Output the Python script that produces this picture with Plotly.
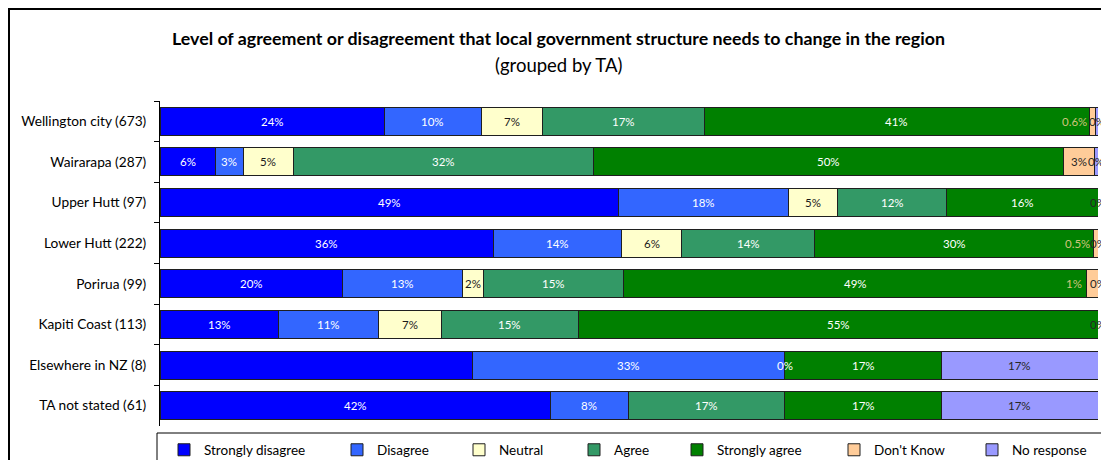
import math
import plotly.graph_objects as go

# Territorial authority groups (respondent counts in brackets)
areas = [
    "Wellington city (673)",
    "Wairarapa (287)",
    "Upper Hutt (97)",
    "Lower Hutt (222)",
    "Porirua (99)",
    "Kapiti Coast (113)",
    "Elsewhere in NZ (8)",
    "TA not stated (61)",
]

# Share of respondents (%) per response; None = no responses recorded
strongly_disagree = [23.9, 5.9, 48.9, 35.6, 19.5, 12.6, 33.3, 41.6]
disagree = [10.4, 3.0, 18.1, 13.6, 12.7, 10.7, 33.3, 8.3]
neutral = [6.5, 5.3, 5.2, 6.4, 2.3, 6.7, None, None]
agree = [17.2, 32.0, 11.7, 14.2, 14.9, 14.6, 0, 16.7]
strongly_agree = [41.1, 50.1, 16.1, 29.7, 49.4, 55.4, 16.7, 16.7]
dont_know = [0.6, 3.3, None, 0.5, 1.2, None, None, None]
no_response = [0.3, 0.4, 0, 0, 0, 0, 16.7, 16.7]

series = [
    ("Strongly disagree", strongly_disagree, "#0000FF", "white"),
    ("Disagree", disagree, "#3366FF", "white"),
    ("Neutral", neutral, "#FFFFCC", "#1a1a1a"),
    ("Agree", agree, "#339966", "white"),
    ("Strongly agree", strongly_agree, "#008000", "white"),
    ("Don't Know", dont_know, "#FFCC99", "#262626"),
    ("No response", no_response, "#9999FF", "#262626"),
]

# labels left off the chart
unlabelled = {("Elsewhere in NZ (8)", "Strongly disagree")}

FONT = "Lato"
X0_PX, X1_PX, Y_TOP_PX, Y_BOT_PX = 160, 1098, 101, 426


def px_x(p):
    return (p - X0_PX) / (X1_PX - X0_PX)


def px_y(p):
    return (Y_BOT_PX - p) / (Y_BOT_PX - Y_TOP_PX)


def fmt(v, name):
    if name == "Don't Know" and 0 < v < 1:
        return f"{v:.1f}%"
    return f"{math.floor(v + 0.5):.0f}%"


fig = go.Figure()
legend_left_px = [164, 337, 459, 574, 677, 834, 972]

for i, (name, vals, color, txtcol) in enumerate(series):
    lg = "legend" if i == 0 else f"legend{i + 1}"
    fig.add_trace(go.Bar(
        y=areas, x=vals, name=name, orientation="h",
        marker=dict(color=color, line=dict(color="#1f1f1f", width=1)),
        legend=lg, hoverinfo="x+name",
    ))

# value labels centred on each segment
annotations = []
cum = [0.0] * len(areas)
for name, vals, color, txtcol in series:
    for j, v in enumerate(vals):
        if v is None:
            continue
        start = cum[j]
        cum[j] += v
        if (areas[j], name) in unlabelled:
            continue
        centre = start + v / 2
        col = txtcol
        shift = 0
        if name == "Don't Know" and 0 < v < 2:
            col = "#cfc47c"
            shift = -18
        annotations.append(dict(
            x=centre, y=areas[j], xref="x", yref="y", text=fmt(v, name),
            showarrow=False, xshift=shift,
            font=dict(family=FONT, size=11.5, color=col),
        ))

# title and subtitle
annotations.append(dict(
    x=px_x(558), y=px_y(38), xref="paper", yref="paper",
    xanchor="center", yanchor="middle",
    text="<b>Level of agreement or disagreement that local government structure needs to change in the region</b>",
    showarrow=False, font=dict(family=FONT, size=17.8, color="black"),
))
annotations.append(dict(
    x=px_x(558), y=px_y(65), xref="paper", yref="paper",
    xanchor="center", yanchor="middle",
    text="(grouped by TA)", showarrow=False,
    font=dict(family=FONT, size=18.5, color="black"),
))

shapes = [
    # outer chart frame
    dict(type="rect", xref="paper", yref="paper",
         x0=px_x(9), x1=px_x(1130), y0=px_y(9), y1=px_y(500),
         line=dict(color="black", width=2), fillcolor="rgba(0,0,0,0)", layer="below"),
    # legend frame
    dict(type="rect", xref="paper", yref="paper",
         x0=px_x(157), x1=px_x(1130), y0=px_y(433), y1=px_y(490),
         line=dict(color="black", width=1), fillcolor="rgba(0,0,0,0)"),
]

layout_legends = {}
for i, left in enumerate(legend_left_px):
    key = "legend" if i == 0 else f"legend{i + 1}"
    layout_legends[key] = dict(
        x=px_x(left), xanchor="left", y=px_y(450), yanchor="middle",
        orientation="h", bgcolor="rgba(0,0,0,0)", borderwidth=0,
        font=dict(family=FONT, size=13.5, color="black"),
    )

fig.update_layout(
    width=1101, height=460,
    margin=dict(l=X0_PX, r=1101 - X1_PX, t=Y_TOP_PX, b=460 - Y_BOT_PX, pad=0,
                autoexpand=False),
    barmode="stack", bargap=0.31,
    paper_bgcolor="white", plot_bgcolor="white",
    font=dict(family=FONT, size=12, color="black"),
    xaxis=dict(range=[0, 100], visible=False, fixedrange=True),
    yaxis=dict(
        autorange="reversed", showline=True, linecolor="black", linewidth=1,
        ticks="outside", ticklen=5, tickcolor="black", tickson="boundaries",
        ticklabelstandoff=10, showgrid=False,
        tickfont=dict(family=FONT, size=13.7, color="black"),
    ),
    annotations=annotations, shapes=shapes,
    showlegend=True,
    **layout_legends,
)

fig.write_html("out.html")
